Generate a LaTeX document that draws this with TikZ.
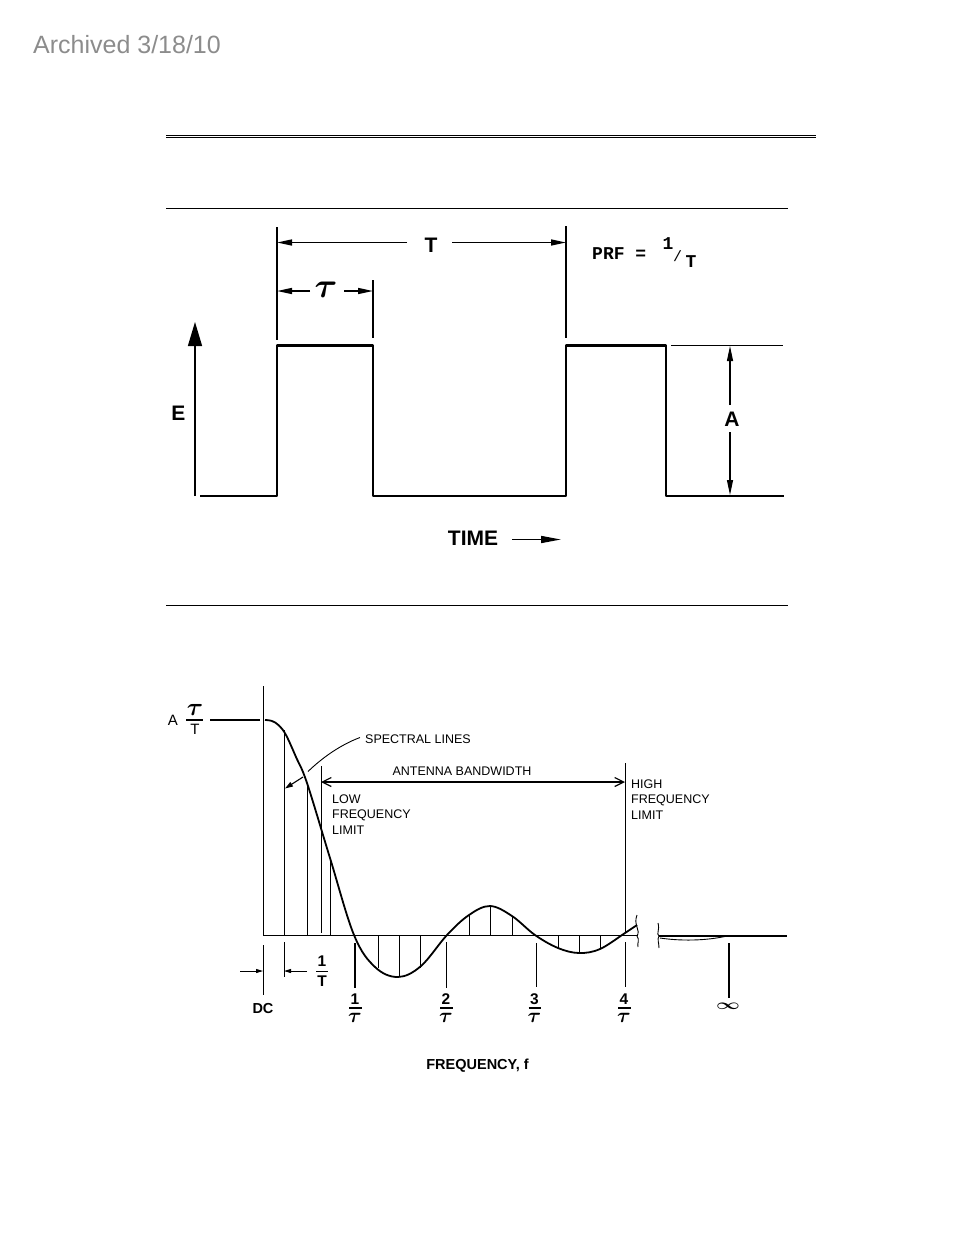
\documentclass[tikz,border=0pt]{standalone}
\usepackage{fontspec}
\setmainfont{Liberation Sans}
\newfontfamily\prffont{Liberation Mono}
\usetikzlibrary{calc,arrows.meta}
\definecolor{stampgray}{gray}{0.55}
\newcommand{\sizefont}[1]{\fontsize{#1}{#1}\selectfont}

\begin{document}
\begin{tikzpicture}[x=1pt, y=-1pt]
\useasboundingbox (0,0) rectangle (954,1235);
%styles
\tikzstyle{stamp}=[rectangle, inner sep=0pt, anchor=west, text=stampgray, font=\sizefont{25}]
\tikzstyle{bigText}=[rectangle, inner sep=0pt, font=\sizefont{21}\bfseries]
\tikzstyle{smallText}=[rectangle, inner sep=0pt, anchor=west, align=left, font=\sizefont{12.5}]
\tikzstyle{boldText}=[rectangle, inner sep=0pt, font=\sizefont{14.5}\bfseries]
\tikzstyle{fracText}=[rectangle, inner sep=0pt]
\tikzstyle{numText}=[rectangle, inner sep=0pt, font=\sizefont{15.5}\bfseries]
\tikzstyle{tauText}=[rectangle, inner sep=0pt, font=\sizefont{21}\bfseries\boldmath]
\tikzstyle{rule}=[line width=1pt]
\tikzstyle{pulse}=[line width=2.4pt, line join=round]
\tikzstyle{thinLine}=[line width=0.9pt]
\tikzstyle{medLine}=[line width=1.3pt]
\tikzstyle{fracBar}=[line width=1.6pt]
\tikzstyle{dimTip}=[line width=1.5pt, -{Stealth[length=15pt, width=6pt, inset=0pt]}]
\tikzstyle{aTip}=[line width=1.1pt, -{Stealth[length=15pt, width=6pt, inset=0pt]}]
\tikzstyle{bandTip}=[line width=1.2pt, {Straight Barb[length=9pt, width=9pt]}-{Straight Barb[length=9pt, width=9pt]}]
\tikzstyle{smallTip}=[line width=0.9pt, -{Stealth[length=7pt, width=4pt, inset=0pt]}]

\node[stamp] (stamp) at (33,44.5) {Archived 3/18/10};

%rules
\draw[line width=1pt] (166,135.6) -- (816,135.6);
\draw[line width=1pt] (166,137.8) -- (816,137.8);
\draw[rule] (166,208) -- (788,208);
\draw[rule] (166,605) -- (788,605);

%pulse train
\coordinate (t0) at (200,496);
\coordinate (t1) at (277,496);
\coordinate (t2) at (277,345.5);
\coordinate (t3) at (373,345.5);
\coordinate (t4) at (373,496);
\coordinate (t5) at (566,496);
\coordinate (t6) at (566,345.5);
\coordinate (t7) at (666,345.5);
\coordinate (t8) at (666,496);
\coordinate (t9) at (784,496);
\draw[pulse] (t0) -- (t1) -- (t2) -- (t3) -- (t4) -- (t5) -- (t6) -- (t7) -- (t8) -- (t9);

%axis
\node[bigText] (e) at (178.5,413) {E};
\coordinate (axisBottom) at (195,496);
\coordinate (axisTop) at (195,322);
\draw[line width=1.3pt, -{Stealth[length=24pt, width=14pt, inset=0pt]}] (axisBottom) -- (axisTop);
\node[bigText] (time) at (473,538.5) {TIME};
\coordinate (timeStart) at (512,539.5);
\coordinate (timeEnd) at (561,539.5);
\draw[line width=1.6pt, -{Stealth[length=20pt, width=7pt, inset=0pt]}] (timeStart) -- (timeEnd);

%period
\draw[medLine] (277,227) -- (277,340);
\draw[medLine] (373,280) -- (373,338);
\draw[medLine] (566,226) -- (566,338);
\node[bigText] (period) at (431,245.5) {T};
\coordinate (periodLeft) at (407,242.5);
\coordinate (periodRight) at (452,242.5);
\draw[dimTip] (periodLeft) -- (277,242.5);
\draw[dimTip] (periodRight) -- (566,242.5);
\node[fracText, font=\sizefont{25}\bfseries\boldmath] (width) at (326,290) {\scalebox{1.4}{$\tau$}};
\coordinate (widthLeft) at (310,291);
\coordinate (widthRight) at (344,291);
\draw[dimTip] (widthLeft) -- (277,291);
\draw[dimTip] (widthRight) -- (373,291);

\node[fracText, anchor=west, font=\sizefont{18}\prffont\bfseries] (prf) at (592,253.5) {PRF =};
\node[fracText, font=\sizefont{18}\prffont\bfseries] (prfOne) at (668,243.5) {1};
\node[fracText, font=\sizefont{15}\prffont] (prfBar) at (677.5,256) {/};
\node[fracText, font=\sizefont{18}\prffont\bfseries] (prfT) at (691,262) {T};

%amplitude
\node[bigText] (amp) at (732,419) {A};
\coordinate (ampUp) at (730,405);
\coordinate (ampDown) at (730,432);
\draw[thinLine] (671,345) -- (783,345);
\draw[aTip] (ampUp) -- (730,346);
\draw[aTip] (ampDown) -- (730,495);

%spectrum
\node[smallText, anchor=center, font=\sizefont{15}] (a) at (173,720.5) {A};
\node[tauText, font=\sizefont{25}\bfseries\boldmath] (aTau) at (195,710) {$\tau$};
\node[fracText, font=\sizefont{15}] (aT) at (195,729) {T};
\draw[medLine] (186,720) -- (203,720);
\draw[medLine] (210,720) -- (260,720);

\draw[thinLine] (263,686) -- (263,936);
\draw[thinLine] (284,730) -- (284,936);
\draw[thinLine] (307,783) -- (307,936);
\draw[thinLine] (321,766) -- (321,933);
\draw[thinLine] (330,858) -- (330,936);
\draw[thinLine] (378,936) -- (378,968);
\draw[thinLine] (399,936) -- (399,977);
\draw[thinLine] (420,936) -- (420,968);
\draw[thinLine] (469,915) -- (469,936);
\draw[thinLine] (490,906) -- (490,936);
\draw[thinLine] (512,916) -- (512,936);
\draw[thinLine] (558,936) -- (558,948);
\draw[thinLine] (579,936) -- (579,953);
\draw[thinLine] (600,936) -- (600,949);
\draw[thinLine] (625,763) -- (625,932);

\draw[medLine] (263,935.5) -- (638,935.5);
\draw[line width=1.8pt] plot[smooth, tension=0.6] coordinates {(265,720) (272,721) (279,725.5) (286,735) (296,757) (307,783) (330,858) (354,935) (375,967) (398,977) (421,966) (447,935) (469,915) (490,906) (512,916) (535,935) (558,948) (579,953) (600,949) (625,933) (637,925)};

%break
\draw[thinLine] (637,915) .. controls (633,925) and (641,930) .. (637,936) .. controls (640,940) and (637,943) .. (638,947);
\draw[thinLine] (658,923) .. controls (660,930) and (656,934) .. (659,936) .. controls (657,939) and (659,943) .. (659,948);
\draw[medLine] (659,936) -- (787,936);
\draw[thinLine] (660,938) .. controls (680,941) and (705,941) .. (727,936);

%spectral lines label
\node[smallText] (spectral) at (365,739.5) {SPECTRAL LINES};
\coordinate (leaderStart) at ($(spectral.west)-(5,2)$);
\coordinate (leaderEnd) at (308,771.5);
\coordinate (leaderTail) at (303,777);
\coordinate (leaderTip) at (285,788.5);
\draw[thinLine] (leaderStart) .. controls (340,745) and (322,758) .. (leaderEnd);
\draw[line width=1.1pt, -{Stealth[length=8pt, width=5pt, inset=0pt]}] (leaderTail) -- (leaderTip);

%bandwidth
\node[smallText, anchor=center] (bandwidth) at (462,771.5) {ANTENNA BANDWIDTH};
\coordinate (bandLeft) at (321,782);
\coordinate (bandRight) at (625,782);
\draw[bandTip] (bandLeft) -- (bandRight);
\node[smallText] (low) at (332,814.5) {LOW\\[2.8pt]FREQUENCY\\[2.8pt]LIMIT};
\node[smallText] (high) at (631,799.5) {HIGH\\[2.8pt]FREQUENCY\\[2.8pt]LIMIT};

%harmonic ticks
\draw[thinLine] (263,945) -- (263,995);
\draw[thinLine] (284,942) -- (284,977);
\coordinate (dcStart) at (240,971);
\coordinate (dcEnd) at (263,971);
\coordinate (lineStart) at (307,971);
\coordinate (lineEnd) at (284,971);
\draw[smallTip] (dcStart) -- (dcEnd);
\draw[smallTip] (lineStart) -- (lineEnd);
\node[boldText] (dc) at (263,1008) {DC};
\node[numText] (lineOne) at (322,961.5) {1};
\node[numText] (lineT) at (322,981.5) {T};
\draw[medLine] (316,971.5) -- (328,971.5);

\node[numText] (one) at (355,999) {1};
\node[tauText] (oneTau) at (355,1017.5) {$\tau$};
\draw[fracBar] (349,1008) -- (361.5,1008);
\node[numText] (two) at (446,999) {2};
\node[tauText] (twoTau) at (446,1017.5) {$\tau$};
\draw[fracBar] (440,1008) -- (452.5,1008);
\node[numText] (three) at (534.5,999) {3};
\node[tauText] (threeTau) at (534.5,1017.5) {$\tau$};
\draw[fracBar] (528.5,1008) -- (541,1008);
\node[numText] (four) at (624,999) {4};
\node[tauText] (fourTau) at (624,1017.5) {$\tau$};
\draw[fracBar] (618,1008) -- (630.5,1008);
\draw[medLine] (355,943) -- (355,988);
\draw[thinLine] (446,942) -- (446,988);
\draw[thinLine] (536,943) -- (536,987);
\draw[thinLine] (625,942) -- (625,987);
\node[fracText, font=\sizefont{20}\boldmath] (inf) at (728,1006) {\scalebox{1}[0.7]{$\infty$}};
\draw[medLine] (729,943) -- (729,998);

\node[boldText] (freq) at (477.5,1066) {FREQUENCY, f};
\end{tikzpicture}
\end{document}
